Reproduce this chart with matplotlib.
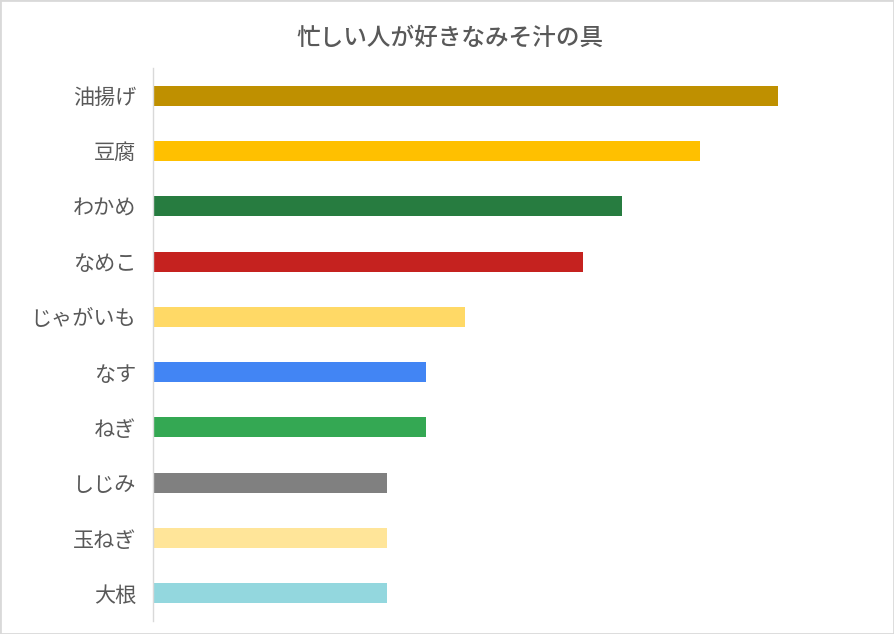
import matplotlib
matplotlib.use("Agg")
import matplotlib.pyplot as plt
from matplotlib.patches import Rectangle

plt.rcParams['font.family'] = ['Noto Sans CJK JP', 'DejaVu Sans']

title = "忙しい人が好きなみそ汁の具"
categories = ["油揚げ", "豆腐", "わかめ", "なめこ", "じゃがいも", "なす", "ねぎ", "しじみ", "玉ねぎ", "大根"]
values = [16, 14, 12, 11, 8, 7, 7, 6, 6, 6]
colors = ["#BF9000", "#FFC000", "#277C40", "#C5221F", "#FFD966",
          "#4285F4", "#34A853", "#808080", "#FFE599", "#93D7DE"]

W, H = 894, 634
fig = plt.figure(figsize=(W / 100, H / 100), dpi=100)
fig.patches.append(Rectangle((0, 0), 1, 1, transform=fig.transFigure,
                             fill=False, edgecolor="#D9D9D9", linewidth=2, zorder=10))

left, right, top, bottom = 153, 856, 68, 621
ax = fig.add_axes([left / W, 1 - bottom / H, (right - left) / W, (bottom - top) / H])

y = list(range(len(categories)))
ax.barh(y, values, height=0.36, color=colors)
ax.set_ylim(len(categories) - 0.5, -0.5)
ax.set_xlim(0, 18)
ax.set_yticks(y)
ax.set_yticklabels(categories, fontsize=15.2, color="#595959")
ax.tick_params(axis='y', length=0, pad=12)
ax.set_xticks([])
for s in ["top", "right", "bottom"]:
    ax.spines[s].set_visible(False)
ax.spines["left"].set_color("#D9D9D9")
ax.spines["left"].set_linewidth(1)

fig.text(450 / W, 1 - 38 / H, title, ha="center", va="center",
         fontsize=17, color="#595959", fontweight="medium")

fig.savefig("out.png", dpi=100)
